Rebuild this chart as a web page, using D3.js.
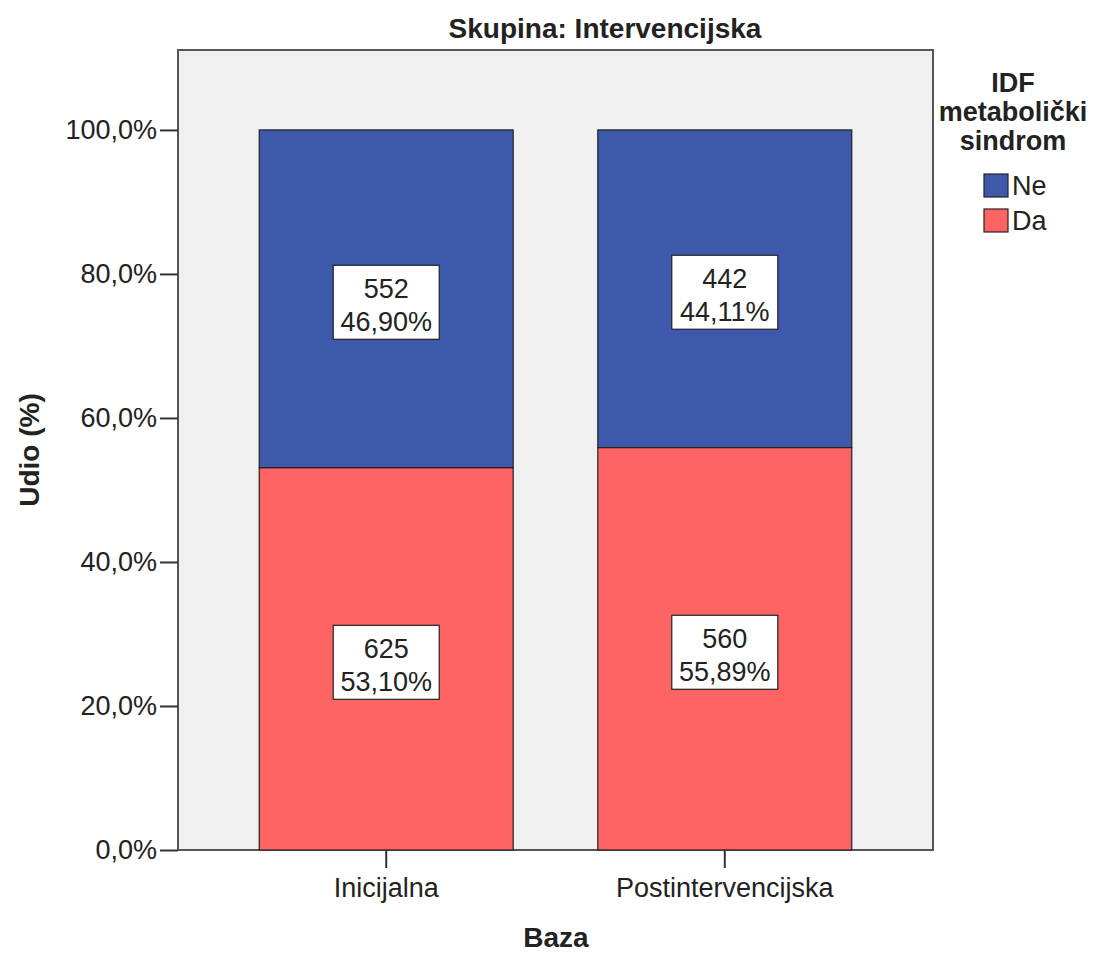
<!DOCTYPE html>
<meta charset="utf-8">
<style>
body { margin: 0; background: #fff; }
text { font-family: "Liberation Sans", Arial, sans-serif; fill: #222; }
.tick text { font-size: 27px; }
</style>
<svg width="1100" height="954"></svg>
<script src="https://cdn.jsdelivr.net/npm/d3@7"></script>
<script>

var categories = ["Inicijalna", "Postintervencijska"];
var seriesNames = ["Ne", "Da"];
var countsNe = [552, 442];
var countsDa = [625, 560];
var pctNe = [46.90, 44.11];
var pctDa = [53.10, 55.89];
var yTicks = [0, 20, 40, 60, 80, 100];
var colors = { Ne: "#3e58ac", Da: "#ff6464" };

var svg = d3.select("svg");
var plotLeft = 178, plotRight = 933, plotTop = 50, plotBottom = 850;

var x = d3.scaleBand().domain(categories).range([plotLeft, plotRight])
	.paddingInner(0.25).paddingOuter(0.24);
var y = d3.scaleLinear().domain([0, 111.1]).range([plotBottom, plotTop]);

// plot background
svg.append("rect")
	.attr("x", plotLeft).attr("y", plotTop)
	.attr("width", plotRight - plotLeft).attr("height", plotBottom - plotTop)
	.attr("fill", "#f0f0f0")
	.attr("stroke", "#555").attr("stroke-width", 2);

var rows = categories.map(function(c, i) {
	return { cat: c, Da: pctDa[i], Ne: pctNe[i], nDa: countsDa[i], nNe: countsNe[i] };
});
var stacked = d3.stack().keys(["Da", "Ne"])(rows);

var layers = svg.append("g").selectAll("g")
	.data(stacked).enter().append("g")
	.attr("fill", function(d) { return colors[d.key]; });

layers.selectAll("rect")
	.data(function(d) { return d; })
	.enter().append("rect")
	.attr("x", function(d) { return x(d.data.cat); })
	.attr("y", function(d) { return y(d[1]); })
	.attr("width", x.bandwidth())
	.attr("height", function(d) { return y(d[0]) - y(d[1]); })
	.attr("stroke", "#222").attr("stroke-width", 1.2);

// value labels
var fmt = function(v) { return v.toFixed(2).replace(".", ",") + "%"; };
stacked.forEach(function(layer) {
	layer.forEach(function(d) {
		var cx = x(d.data.cat) + x.bandwidth() / 2;
		var cy = y((d[0] + d[1]) / 2) + 3.5;
		var g = svg.append("g").attr("transform", "translate(" + cx + "," + cy + ")");
		g.append("rect")
			.attr("x", -53).attr("y", -37).attr("width", 106).attr("height", 74)
			.attr("fill", "#fff").attr("stroke", "#222").attr("stroke-width", 1.2);
		var n = layer.key === "Da" ? d.data.nDa : d.data.nNe;
		var p = layer.key === "Da" ? d.data.Da : d.data.Ne;
		g.append("text").attr("text-anchor", "middle").attr("y", -4)
			.style("font-size", "27px").text(n);
		g.append("text").attr("text-anchor", "middle").attr("y", 29)
			.style("font-size", "27px").text(fmt(p));
	});
});

// axes
var yAxis = d3.axisLeft(y).tickValues(yTicks).tickSize(18).tickPadding(3)
	.tickFormat(function(d) { return d.toFixed(1).replace(".", ",") + "%"; });
var gy = svg.append("g").attr("transform", "translate(" + plotLeft + ",0)").call(yAxis);
gy.select(".domain").remove();
gy.selectAll(".tick line").attr("stroke", "#333").attr("stroke-width", 2);
gy.selectAll(".tick text").attr("fill", "#222");

var xAxis = d3.axisBottom(x).tickSize(18).tickPadding(10);
var gx = svg.append("g").attr("transform", "translate(0," + plotBottom + ")").call(xAxis);
gx.select(".domain").remove();
gx.selectAll(".tick line").attr("stroke", "#333").attr("stroke-width", 2);
gx.selectAll(".tick text").attr("fill", "#222");

// titles
svg.append("text").attr("x", 605).attr("y", 38).attr("text-anchor", "middle")
	.style("font-size", "28px").style("font-weight", "bold").text("Skupina: Intervencijska");
svg.append("text").attr("x", 556).attr("y", 947).attr("text-anchor", "middle")
	.style("font-size", "28px").style("font-weight", "bold").text("Baza");
svg.append("text").attr("transform", "translate(39,450) rotate(-90)").attr("text-anchor", "middle")
	.style("font-size", "28px").style("font-weight", "bold").text("Udio (%)");

// legend
var legTitle = ["IDF", "metabolički", "sindrom"];
svg.append("g").selectAll("text").data(legTitle).enter().append("text")
	.attr("x", 1013).attr("y", function(d, i) { return 92 + i * 29; })
	.attr("text-anchor", "middle")
	.style("font-size", "27px").style("font-weight", "bold")
	.text(function(d) { return d; });

var leg = svg.append("g").selectAll("g").data(seriesNames).enter().append("g")
	.attr("transform", function(d, i) { return "translate(984," + (174 + i * 35) + ")"; });
leg.append("rect").attr("width", 24).attr("height", 23)
	.attr("fill", function(d) { return colors[d]; })
	.attr("stroke", "#222").attr("stroke-width", 1.2);
leg.append("text").attr("x", 28).attr("y", 21).style("font-size", "27px")
	.text(function(d) { return d; });

</script>
